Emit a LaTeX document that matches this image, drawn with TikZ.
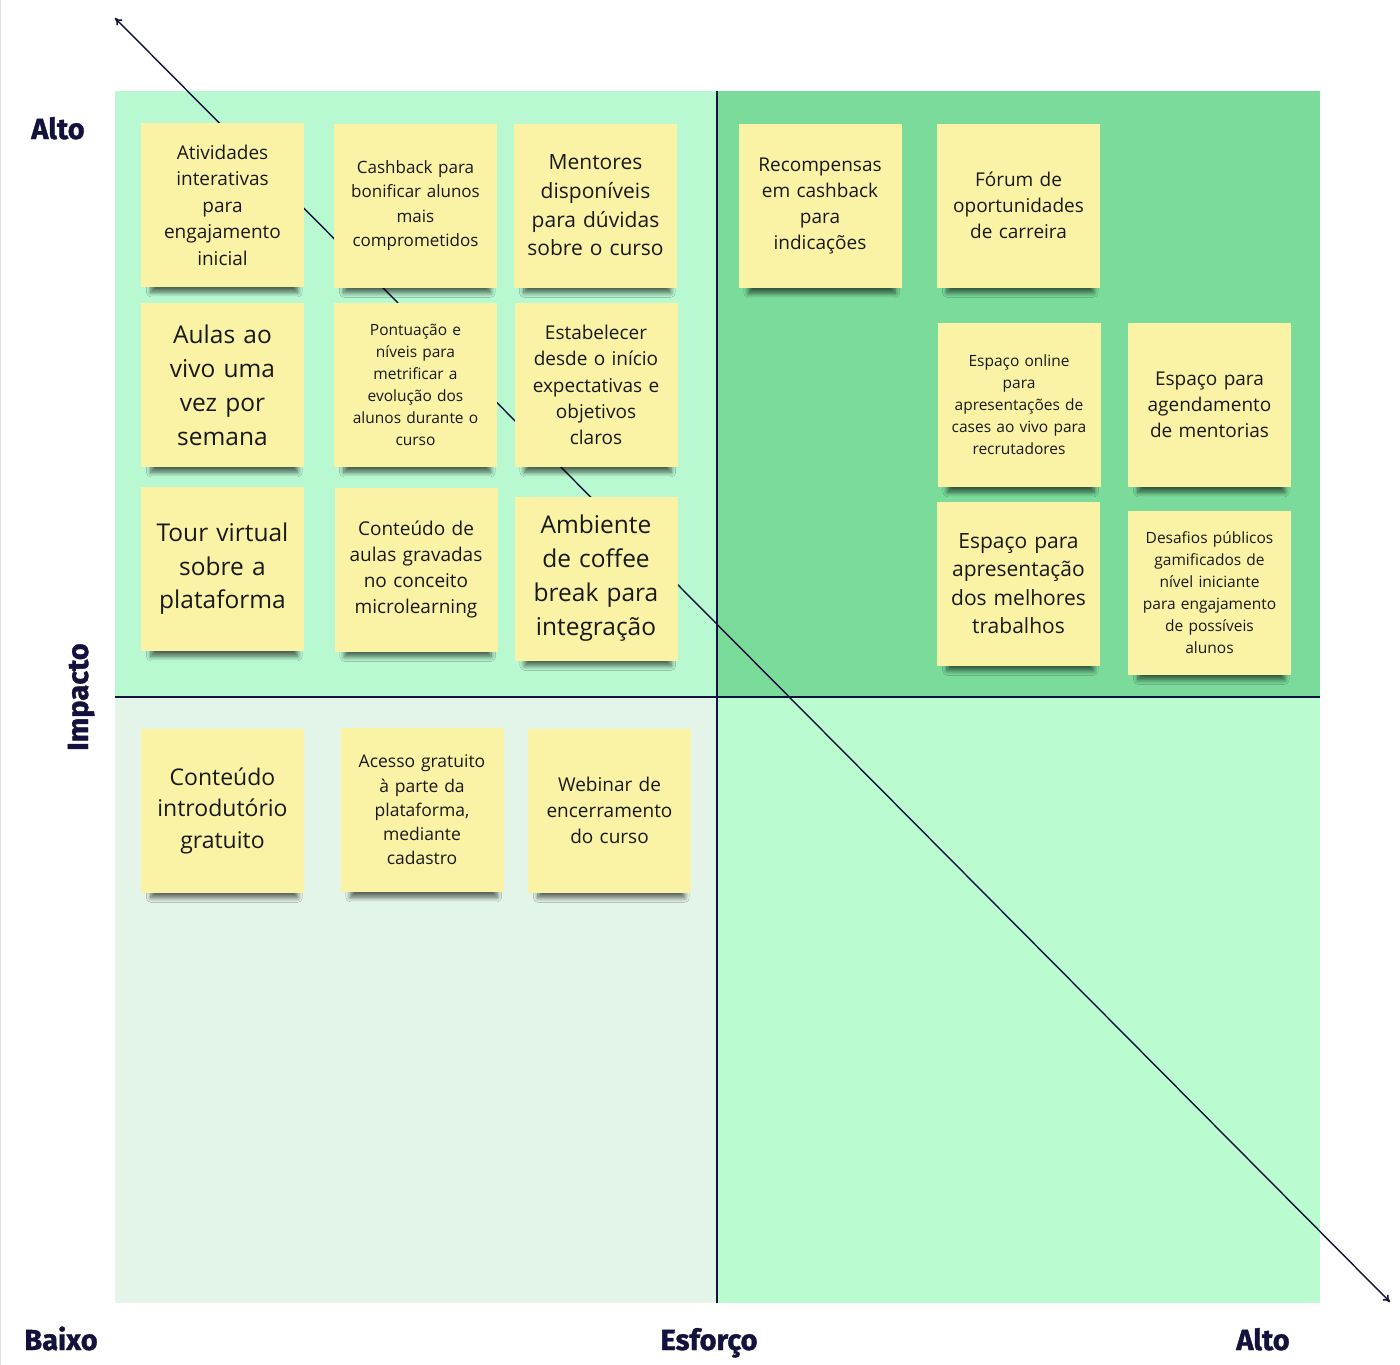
\documentclass[tikz,border=0pt]{standalone}
\usepackage{fontspec}
\setmainfont{Open Sans}
\newfontfamily\axisfont{Fira Sans}[BoldFeatures={FakeBold=1.2}]
\usetikzlibrary{arrows.meta,shadows.blur,positioning}

\definecolor{quadA}{HTML}{B9F9D2}
\definecolor{quadB}{HTML}{7ADB9B}
\definecolor{quadC}{HTML}{E3F5E9}
\definecolor{quadD}{HTML}{BAFCD0}
\definecolor{noteyellow}{HTML}{FAF3A5}
\definecolor{navy}{HTML}{12123D}

\begin{document}
\begin{tikzpicture}[x=1pt, y=-1pt]

  \newcommand{\postit}[5]{\node[postit, font=\fontsize{#3}{#4}\selectfont] (#1) at (#2) {#5};}
  \tikzset{postit/.style =
	{fill=noteyellow, text=black!90,
	minimum width=163pt, minimum height=164pt,
	inner sep=0pt, text width=160pt, align=center,
	blur shadow={shadow xshift=2pt, shadow yshift=-15pt, shadow scale=0.9,
	  shadow blur radius=5pt, shadow blur steps=8, shadow opacity=60}},
	axislabel/.style = {text=navy, anchor=base, font=\axisfont\bfseries\fontsize{29}{32}\selectfont},
	divider/.style = {navy, line width=1.4pt}}

  \useasboundingbox (0,0) rectangle (1400,1365);
  \draw[black!12] (0.5,0) -- (0.5,1365);

  % quadrants
  \fill[quadA] (115,91) rectangle (717,697);
  \fill[quadB] (717,91) rectangle (1320,697);
  \fill[quadC] (115,697) rectangle (717,1303);
  \fill[quadD] (717,697) rectangle (1320,1303);

  \coordinate (vtop) at (717,91);
  \coordinate (vbot) at (717,1303);
  \coordinate (hleft) at (115,697);
  \coordinate (hright) at (1320,697);
  \draw[divider] (vtop) -- (vbot);
  \draw[divider] (hleft) -- (hright);

  \coordinate (diagA) at (115,18);
  \coordinate (diagB) at (1390,1302);
  \draw[navy, line width=1.4pt, {To[length=7pt,width=8pt]}-{To[length=7pt,width=8pt]}] (diagA) -- (diagB);

  % axis labels
  \node[axislabel] (altoY) at (58,139) {Alto};
  \node[axislabel, rotate=90] (impacto) at (88,697) {Impacto};
  \node[axislabel] (baixo) at (61,1350) {Baixo};
  \node[axislabel] (esforco) at (709,1350) {Esforço};
  \node[axislabel] (altoX) at (1263,1350) {Alto};

  % alto impacto, baixo esforco
  \postit{atividades}{222.5,205}{19}{26.5}{Atividades\\interativas\\para\\engajamento\\inicial}
  \postit{cashback}{415.5,205.5}{17}{24.5}{Cashback para\\bonificar alunos\\mais\\comprometidos}
  \postit{mentores}{595.5,205.5}{21}{28.7}{Mentores\\disponíveis\\para dúvidas\\sobre o curso}
  \postit{aulas}{222.5,385}{24.5}{34}{Aulas ao\\vivo uma\\vez por\\semana}
  \postit{pontuacao}{415.5,385}{15.5}{22}{Pontuação e\\níveis para\\metrificar a\\evolução dos\\alunos durante o\\curso}
  \postit{estabelecer}{596,385}{19}{26.3}{Estabelecer\\desde o início\\expectativas e\\objetivos\\claros}
  \postit{tour}{222.5,569}{24.5}{33.5}{Tour virtual\\sobre a\\plataforma}
  \postit{gravadas}{416,569.5}{19}{26}{Conteúdo de\\aulas gravadas\\no conceito\\microlearning}
  \postit{coffee}{596,578.5}{24.5}{34}{Ambiente\\de coffee\\break para\\integração}

  % alto impacto, alto esforco
  \postit{recompensas}{820,206}{19}{26}{Recompensas\\em cashback\\para\\indicações}
  \postit{forum}{1018.5,205.5}{19}{26}{Fórum de\\oportunidades\\de carreira}
  \postit{online}{1019,405}{15.5}{22}{Espaço online\\para\\apresentações de\\cases ao vivo para\\recrutadores}
  \postit{mentorias}{1209.5,405}{19}{26}{Espaço para\\agendamento\\de mentorias}
  \postit{trabalhos}{1018.5,583.5}{21}{28.5}{Espaço para\\apresentação\\dos melhores\\trabalhos}
  \postit{desafios}{1209.5,592.5}{15.5}{22}{Desafios públicos\\gamificados de\\nível iniciante\\para engajamento\\de possíveis\\alunos}

  % baixo impacto, baixo esforco
  \postit{introdutorio}{222.5,810.5}{23}{31.5}{Conteúdo\\introdutório\\gratuito}
  \postit{acesso}{422,810}{17.5}{24.3}{Acesso gratuito\\à parte da\\plataforma,\\mediante\\cadastro}
  \postit{webinar}{609.5,810.5}{19}{26}{Webinar de\\encerramento\\do curso}

\end{tikzpicture}
\end{document}
